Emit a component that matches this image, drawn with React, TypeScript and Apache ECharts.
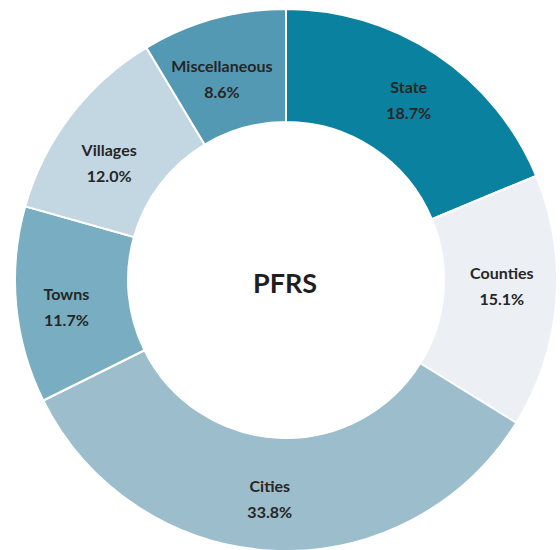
import React, { useEffect, useRef } from "react";
import * as echarts from "echarts";

const categories = ["State", "Counties", "Cities", "Towns", "Villages", "Miscellaneous"];
const values = [18.7, 15.1, 33.8, 11.7, 12.0, 8.6];
const colors = ["#0A819F", "#ECF0F5", "#9BBDCC", "#79ADC2", "#C2D7E2", "#5499B3"];
const centerLabel = "PFRS";
// small label nudges to mimic the original placement
const labelNudges: [number, number][] = [[2, 0], [-1, -12], [-6, 1], [-3, 6], [-4, 15], [-6, 8]];

export default function App() {
  const ref = useRef<HTMLDivElement>(null);
  useEffect(() => {
    if (!ref.current) return;
    const chart = echarts.init(ref.current, undefined, { renderer: "svg" });
    chart.setOption({
      animation: false,
      backgroundColor: "#ffffff",
      graphic: [
        {
          type: "text",
          x: 285,
          y: 282,
          style: {
            text: centerLabel,
            fontFamily: "Lato",
            fontWeight: "bold",
            fontSize: 27,
            fill: "#1f1f1f",
            textAlign: "center",
            textVerticalAlign: "middle",
          },
        },
      ],
      series: [
        {
          type: "pie",
          center: [286, 280],
          radius: [158, 271],
          startAngle: 90,
          clockwise: true,
          avoidLabelOverlap: false,
          itemStyle: { borderColor: "#ffffff", borderWidth: 2 },
          label: {
            show: true,
            position: "inside",
            formatter: (p: any) => `${p.name}\n${p.value.toFixed(1)}%`,
            fontFamily: "Lato",
            fontWeight: "bold",
            fontSize: 16,
            lineHeight: 26,
            color: "#262626",
          },
          labelLayout: (params: any) => {
            const n = labelNudges[params.dataIndex] || [0, 0];
            return { dx: n[0], dy: n[1] };
          },
          labelLine: { show: false },
          emphasis: { disabled: true },
          data: categories.map((c, i) => ({
            name: c,
            value: values[i],
            itemStyle: { color: colors[i] },
          })),
        },
      ],
    });
    return () => chart.dispose();
  }, []);
  return (
    <div
      ref={ref}
      style={{ position: "absolute", left: 0, top: 0, width: 560, height: 550 }}
    />
  );
}
